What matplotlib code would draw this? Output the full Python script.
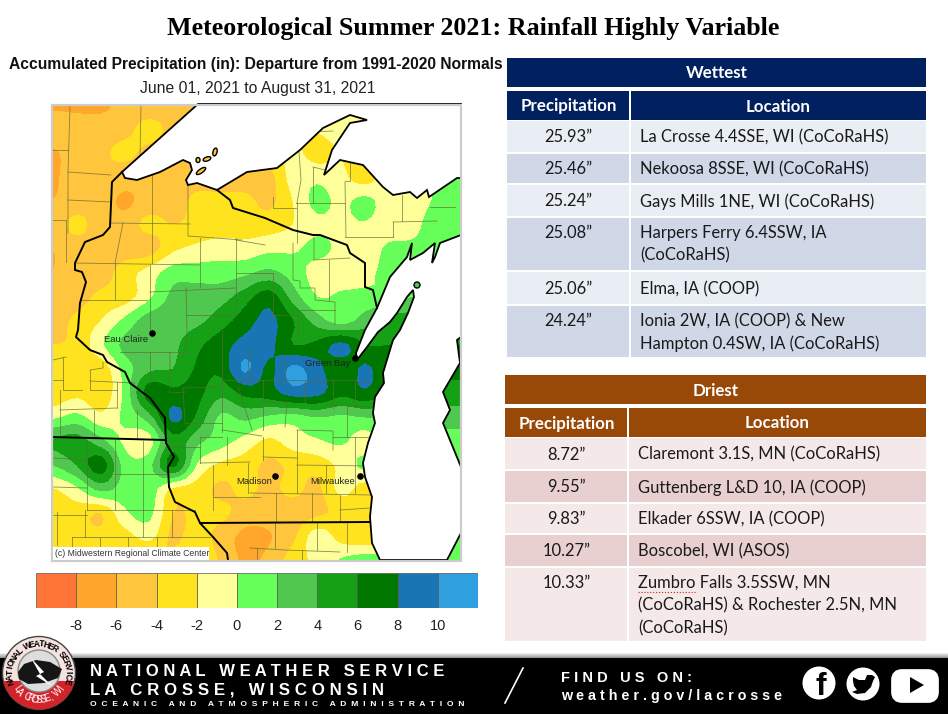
import numpy as np
import matplotlib
matplotlib.use('Agg')
import matplotlib.pyplot as plt
from matplotlib.colors import ListedColormap, BoundaryNorm
from matplotlib.patches import Rectangle, Polygon, Circle, Ellipse, FancyBboxPatch

# departure values, one list per pixel row (every 24 px)
grid_x = [53, 77, 101, 125, 149, 173, 197, 221, 245, 269, 293, 317, 341, 365, 389, 413, 437, 461]
grid_y = [105, 129, 153, 177, 201, 225, 249, 273, 297, 321, 345, 369, 393, 417, 441, 465, 489, 513, 537, 561]
row_105 = [-6.3, -6.5, -6.5, -5.5, -5, -5, -4.5, -4, -3, -2, -1.5, -1, -1, -1, -1, -0.5, 0.5, 0.5]
row_129 = [-5, -5, -5, -4.5, -3.5, -4.5, -5, -4, -3, -2.5, -2, -1.8, -1, -1, -1, -0.5, 0.5, 0.5]
row_153 = [-6.3, -5, -4.3, -3.7, -4.5, -5, -5, -5, -4, -3, -1.5, -3, -2, -2.5, -1, -0.7, 0.5, 0.5]
row_177 = [-6.3, -5, -4.5, -5, -5, -5, -5, -5, -5, -4.8, -1.2, -0.5, -1.5, -3, -1, -0.6, 0.2, 1]
row_201 = [-6, -5, -5, -6.5, -5, -5, -3.5, -3.5, -3.5, -4.5, -2, 0.5, -0.5, 0.5, -1, -0.7, 0.2, 1]
row_225 = [-5, -3.5, -5, -5, -3.5, -4, -3.5, -3, -3, -3, -2, -0.5, -0.5, -0.2, -1, -0.5, 0.8, 1]
row_249 = [-6, -5, -5, -5, -5, -2.5, -1.5, -1, -1.2, -0.5, -0.3, 0.5, -0.5, -1, 0.3, 0.3, 0.5, 0.5]
row_273 = [-6, -5, -5, -3, -1.2, 1, 1, 1, 1.5, 2.5, 1, -0.8, -1, -0.5, 0.5, 0.5, 0.5, 0.5]
row_297 = [-5.5, -5, -3.5, -3, -0.5, 2.5, 3, 3.2, 5, 7, 3, 0, 0.3, 0.5, 0.5, 2, 2, 2]
row_321 = [-5, -3.5, -2, 0.5, 3, 3.2, 3.5, 5, 7, 8.5, 6, 3, 1, 3, 5, 5, 5, 5]
row_345 = [-4, -3.5, -0.5, 2.5, 3, 3.5, 5.5, 7, 8.7, 8.5, 6, 6.5, 8.5, 6, 6, 6, 6, 6]
row_369 = [-3, -3, -3.5, 0.8, 3.5, 4, 6.2, 6.5, 10.3, 7.5, 10.5, 8.6, 6.5, 8.3, 6.5, 6.5, 6.5, 6.5]
row_393 = [-3.5, -2.5, -3.5, 0.5, 7, 6.5, 6.5, 4.5, 6.5, 7, 8.8, 8.5, 6.5, 7.5, 6, 6, 5, 5]
row_417 = [-0.5, 0.5, -1.5, 0.5, 3, 8.5, 5.5, 1.5, 2.5, 1.5, 1, 2, 1.5, 2, 2, 2, 3, 3]
row_441 = [4.2, 4.8, 2.5, -0.5, -1, 5, 2.5, 0.8, -0.8, -2.5, -1, -0.3, 0.3, -1, 1, 1, 1, 1]
row_465 = [2, 4, 7, 1, 1.2, 6.5, -0.3, -2.5, -3, -4.5, -3.5, -3.2, -1.5, 0.5, 0, 0, 0, 0]
row_489 = [-2.2, -0.5, 2.5, 1, 1, -2.5, -3, -4.5, -3.5, -4.5, -3.5, -4.5, -1.5, -3, -3, -3, -3, -3]
row_513 = [-3, -3, -4, -0.5, 0.5, -4, -3.5, -3.5, -5, -5.2, -5, -4.5, -3.5, -3, -3, -3, -3, -3]
row_537 = [-3.5, -3.5, -3.5, -3, -1.5, -4.5, -3, -5, -6.5, -6.2, -4.5, -1, -2.8, -3.5, -3, -3, 0.5, 0.5]
row_561 = [-4, -4, -4.5, -5, -5, -3.5, -1.5, -4.5, -6.3, -5.5, -3, -1.5, 0.2, 1, 1, 1, 1, 1]

levels = [-100, -8, -6, -4, -2, 0, 2, 4, 6, 8, 10, 100]
level_colors = ['#ff7538', '#ffa62b', '#ffc53d', '#ffe31f', '#ffff99', '#66ff5a',
                '#50c850', '#15a015', '#007800', '#1a75b5', '#2f9fe0']
bar_ticks = [-8, -6, -4, -2, 0, 2, 4, 6, 8, 10]

# lakes and borders, in picture pixels
superior = [(198, 104), (122, 172), (125, 178), (137, 180), (160, 172), (183, 160), (190, 163), (192, 170),
            (186, 180), (188, 185), (197, 183), (217, 190), (247, 172), (277, 168), (300, 150), (323, 128),
            (350, 115), (367, 120), (350, 123), (332, 150), (324, 175), (340, 160), (363, 165), (383, 187),
            (393, 195), (410, 192), (417, 198), (427, 190), (429, 197), (457, 178), (461, 178), (461, 104)]
michigan = [(461, 235), (440, 243), (435, 257), (432, 263), (435, 243), (423, 253), (410, 260), (412, 243),
            (407, 257), (390, 277), (377, 308), (365, 330), (356, 353), (357, 360), (367, 347), (378, 332),
            (390, 322), (397, 313), (407, 297), (413, 290), (414, 297), (408, 313), (400, 330), (393, 340),
            (383, 373), (384, 383), (375, 397), (373, 413), (375, 423), (368, 443), (363, 463), (365, 477),
            (372, 497), (370, 517), (372, 543), (380, 560), (447, 560), (461, 533), (461, 467), (443, 423),
            (450, 410), (443, 392), (460, 363), (457, 340), (461, 337)]
mn_wi = [(122, 172), (112, 182), (110, 227), (103, 235), (85, 242), (75, 263), (75, 270), (82, 272), (86, 282),
         (80, 303), (78, 330), (76, 337), (90, 350), (103, 355), (107, 362), (125, 372), (130, 383), (150, 398),
         (165, 418), (166, 443), (174, 457), (168, 467), (169, 487), (175, 502), (195, 512), (200, 523),
         (213, 537), (227, 553), (228, 560)]
mn_ia = [(52, 437), (166, 440)]
wi_il = [(200, 523), (370, 522)]
wi_mi = [(217, 190), (230, 200), (233, 208), (265, 218), (293, 230), (313, 235), (320, 235), (347, 245),
         (350, 253), (365, 263), (365, 287), (373, 290), (377, 308)]
counties = [
    [(70, 105), (68, 172), (68, 233)], [(141, 105), (140, 157)], [(53, 150), (68, 150)], [(68, 172), (111, 175)],
    [(68, 200), (111, 202)], [(53, 220), (66, 220), (66, 262)], [(110, 223), (190, 224)], [(152, 175), (152, 263)],
    [(188, 185), (188, 236), (242, 240)], [(123, 223), (115, 263)], [(75, 263), (200, 265)], [(115, 263), (115, 300)],
    [(80, 300), (147, 300)], [(150, 265), (150, 300), (150, 330)], [(200, 238), (200, 287)], [(150, 292), (236, 288)],
    [(186, 288), (187, 330), (186, 352)], [(186, 315), (236, 315)], [(236, 238), (236, 310)], [(236, 240), (265, 245)],
    [(236, 273), (273, 273)], [(273, 197), (273, 208), (296, 208)], [(297, 203), (297, 243)], [(296, 203), (345, 203)],
    [(345, 182), (346, 237)], [(345, 237), (393, 237)], [(393, 222), (393, 237)], [(393, 222), (437, 221)],
    [(402, 195), (402, 221)], [(430, 207), (455, 207)], [(299, 152), (301, 180), (297, 203)], [(310, 132), (333, 131)],
    [(313, 167), (313, 203)], [(313, 167), (325, 170)], [(350, 163), (350, 181), (345, 181)], [(314, 237), (314, 260), (350, 258)],
    [(329, 260), (329, 300)], [(293, 243), (293, 280), (300, 281), (300, 288), (315, 288), (315, 300), (335, 302), (335, 325)],
    [(273, 273), (273, 317)], [(300, 310), (335, 310)], [(298, 310), (298, 340)], [(270, 315), (298, 315)],
    [(120, 352), (188, 352)], [(150, 352), (150, 385)], [(170, 352), (170, 393), (186, 392)], [(183, 388), (185, 423)],
    [(183, 388), (220, 387)], [(222, 330), (222, 432)], [(222, 380), (305, 380), (370, 380)], [(248, 347), (248, 380)],
    [(238, 387), (252, 430)], [(185, 423), (222, 423)], [(222, 430), (262, 436)], [(200, 437), (200, 463)], [(200, 437), (222, 437)],
    [(170, 447), (200, 447)], [(200, 463), (250, 462)], [(213, 465), (213, 510)], [(213, 497), (260, 497)], [(248, 463), (248, 493)],
    [(227, 437), (227, 465)], [(53, 360), (66, 357)], [(63, 357), (63, 390), (82, 390)], [(53, 380), (63, 380)],
    [(90, 370), (90, 390), (117, 390)], [(90, 370), (103, 368), (103, 362)], [(117, 382), (117, 408)], [(90, 381), (135, 383)],
    [(94, 410), (94, 438)], [(60, 410), (117, 408)], [(60, 390), (60, 437)], [(137, 410), (137, 438)], [(53, 458), (88, 460)],
    [(87, 440), (87, 510)], [(115, 440), (115, 510)], [(143, 441), (143, 537)], [(115, 474), (168, 474)], [(53, 487), (87, 488)],
    [(87, 510), (195, 510)], [(57, 512), (57, 545)], [(53, 515), (87, 515)], [(85, 510), (85, 537)], [(72, 537), (210, 537)],
    [(72, 537), (72, 547)], [(100, 537), (100, 546)], [(128, 537), (128, 546)], [(157, 537), (157, 546)], [(172, 510), (172, 537)],
    [(263, 380), (263, 430)], [(285, 355), (285, 380)], [(305, 380), (305, 402)], [(333, 380), (333, 408)], [(355, 380), (355, 407)],
    [(263, 402), (287, 402), (285, 427)], [(347, 405), (347, 437)], [(330, 405), (375, 407)], [(297, 430), (297, 493)],
    [(297, 430), (333, 431), (333, 450)], [(333, 437), (368, 437)], [(355, 437), (355, 493)], [(263, 457), (297, 458)], [(263, 437), (263, 460)],
    [(297, 465), (370, 466)], [(326, 465), (326, 493)], [(250, 493), (372, 495)], [(276, 493), (276, 522)], [(312, 493), (312, 522)],
    [(340, 495), (340, 522)], [(340, 510), (370, 508)], [(275, 522), (275, 548)], [(317, 522), (317, 550)], [(347, 522), (347, 552)],
    [(250, 548), (285, 550), (340, 552)], [(257, 548), (257, 560)], [(302, 550), (302, 560)],
]
cities = ['Eau Claire', 'Green Bay', 'Madison', 'Milwaukee']
city_x = [152, 355, 275, 360]
city_y = [333, 358, 476, 476]
label_x = [126, 328, 254, 333]
label_y = [339, 363, 481, 481]

# tables
wet_precip = ['25.93”', '25.46”', '25.24”', '25.08”', '25.06”', '24.24”']
wet_loc = ['La Crosse 4.4SSE, WI (CoCoRaHS)', 'Nekoosa 8SSE, WI (CoCoRaHS)', 'Gays Mills 1NE, WI (CoCoRaHS)',
           'Harpers Ferry 6.4SSW, IA\n(CoCoRaHS)', 'Elma, IA (COOP)',
           'Ionia 2W, IA (COOP) & New\nHampton 0.4SW, IA (CoCoRaHS)']
wet_edges = [120, 153, 184, 217, 271, 305, 358]
dry_precip = ['8.72”', '9.55”', '9.83”', '10.27”', '10.33”']
dry_loc = ['Claremont 3.1S, MN (CoCoRaHS)', 'Guttenberg L&D 10, IA (COOP)', 'Elkader 6SSW, IA (COOP)',
           'Boscobel, WI (ASOS)', 'Zumbro Falls 3.5SSW, MN\n(CoCoRaHS) & Rochester 2.5N, MN\n(CoCoRaHS)']
dry_edges = [437, 470, 503, 534, 567, 642]

font_ui = ['Lato', 'DejaVu Sans']
font_map = ['Liberation Sans', 'DejaVu Sans']


def spaced(text, gap='  ', word_gap='     '):
    # letter spacing for the footer lines
    return word_gap.join(gap.join(w) for w in text.split(' '))


def rounder(a, n=4):
    # Catmull-Rom between grid rows so the filled bands come out round
    out = []
    for i in range(len(a) - 1):
        p0, p1, p2, p3 = a[max(i - 1, 0)], a[i], a[i + 1], a[min(i + 2, len(a) - 1)]
        for t in np.arange(n) / n:
            out.append(0.5 * (2 * p1 + (p2 - p0) * t + (2 * p0 - 5 * p1 + 4 * p2 - p3) * t ** 2
                              + (3 * p1 - p0 - 3 * p2 + p3) * t ** 3))
    out.append(a[-1])
    return np.array(out)


fig = plt.figure(figsize=(9.48, 7.14), dpi=100)
ax = fig.add_axes([0, 0, 1, 1])
ax.set_xlim(0, 948)
ax.set_ylim(714, 0)
ax.axis('off')

ax.text(473, 29, 'Meteorological Summer 2021: Rainfall Highly Variable', ha='center', va='center',
        fontsize=18.7, family=['Liberation Serif', 'DejaVu Serif'], weight='bold', color='black')
ax.text(256, 65, 'Accumulated Precipitation (in): Departure from 1991-2020 Normals', ha='center', va='center',
        fontsize=11.25, family=font_map, weight='bold', color='#111111')
ax.text(258, 89, 'June 01, 2021 to August 31, 2021', ha='center', va='center', fontsize=11.3, family=font_map, color='#222222')

# map
departure = np.array([row_105, row_129, row_153, row_177, row_201, row_225, row_249, row_273, row_297, row_321,
                      row_345, row_369, row_393, row_417, row_441, row_465, row_489, row_513, row_537, row_561])
fine = rounder(rounder(departure).T).T
fine_x = np.linspace(grid_x[0], grid_x[-1], fine.shape[1])
fine_y = np.linspace(grid_y[0], grid_y[-1], fine.shape[0])
cmap = ListedColormap(level_colors)
norm = BoundaryNorm(levels, cmap.N)
ax.contourf(fine_x, fine_y, fine, levels=levels, cmap=cmap, norm=norm, zorder=1)
for line in counties:
    xs, ys = zip(*line)
    ax.plot(xs, ys, color='#5f6a3a', lw=0.6, alpha=0.75, zorder=2)
ax.add_patch(Polygon(superior, closed=True, fc='white', ec='black', lw=1.3, zorder=3))
ax.add_patch(Polygon(michigan, closed=True, fc='white', ec='black', lw=1.3, zorder=3))
for border in [mn_wi, mn_ia, wi_il, wi_mi]:
    xs, ys = zip(*border)
    ax.plot(xs, ys, color='black', lw=1.4, zorder=4)
# islands
ax.add_patch(Ellipse((215, 152), 4, 8, angle=15, fc='#ffc53d', ec='black', lw=1, zorder=4))
ax.add_patch(Ellipse((207, 159), 8, 4, angle=-20, fc='#ffc53d', ec='black', lw=1, zorder=4))
ax.add_patch(Ellipse((198, 160), 4, 5, fc='#ffc53d', ec='black', lw=1, zorder=4))
ax.add_patch(Ellipse((201, 171), 11, 4, angle=-35, fc='#ffc53d', ec='black', lw=1, zorder=4))
ax.add_patch(Ellipse((417, 285), 6, 6, fc='#50c850', ec='black', lw=1, zorder=4))
# frame and credit box
ax.add_patch(Rectangle((52.5, 104.5), 409, 456, fc='none', ec='#cccccc', lw=1.6, zorder=5))
ax.add_patch(Rectangle((53, 547), 156, 13, fc='white', ec='none', zorder=6))
ax.text(55, 554, '(c) Midwestern Regional Climate Center', ha='left', va='center', fontsize=6.2, family=font_map, color='#333333', zorder=7)
ax.scatter(city_x, city_y, s=14, color='black', zorder=6)
for name, lx, ly in zip(cities, label_x, label_y):
    ax.text(lx, ly, name, ha='center', va='center', fontsize=6.8, family=font_map, color='#222222', zorder=6)

# colour bar
bar = fig.add_axes([36 / 948, 1 - 608 / 714, 442 / 948, 35 / 714])
for i, col in enumerate(level_colors):
    bar.bar(-9 + 2 * i, 1, width=2, color=col, edgecolor='#555555', linewidth=0.5)
bar.set_xlim(-10, 12)
bar.set_ylim(0, 1)
bar.set_yticks([])
bar.set_xticks(bar_ticks)
bar.set_xticklabels(bar_ticks, fontsize=10.5, family=font_map, color='#222222')
bar.tick_params(axis='x', length=0, pad=8)
for s in bar.spines.values():
    s.set_visible(False)


def draw_table(x0, xm, x1, y_title, title, edges, precip, loc, head_col, col_a, col_b):
    ax.add_patch(Rectangle((x0, y_title), x1 - x0, 29, fc=head_col, ec='none'))
    ax.text((x0 + x1) / 2, y_title + 15.5, title, ha='center', va='center', fontsize=12.2, weight='bold', family=font_ui, color='white')
    top = edges[0] - 29
    ax.add_patch(Rectangle((x0, top), xm - x0 - 1, 29, fc=head_col, ec='none'))
    ax.add_patch(Rectangle((xm + 1, top), x1 - xm - 1, 29, fc=head_col, ec='none'))
    ax.text((x0 + xm) / 2, top + 15.5, 'Precipitation', ha='center', va='center', fontsize=12.2, weight='bold', family=font_ui, color='white')
    ax.text((xm + x1) / 2, top + 15.5, 'Location', ha='center', va='center', fontsize=12.2, weight='bold', family=font_ui, color='white')
    for i in range(len(precip)):
        col = col_a if i % 2 == 0 else col_b
        y0, y1 = edges[i], edges[i + 1]
        ax.add_patch(Rectangle((x0, y0 + 1), xm - x0 - 1, y1 - y0 - 2, fc=col, ec='none'))
        ax.add_patch(Rectangle((xm + 1, y0 + 1), x1 - xm - 1, y1 - y0 - 2, fc=col, ec='none'))
        lines = loc[i].split('\n')
        first = (y0 + y1) / 2 + 1 if len(lines) == 1 else y0 + 16
        ax.text((x0 + xm) / 2, first, precip[i], ha='center', va='center', fontsize=11.9, family=font_ui, color='#1a1a1a')
        for j, part in enumerate(lines):
            ax.text(xm + 10, first + j * 22.8, part, ha='left', va='center', fontsize=11.9, family=font_ui, color='#1a1a1a')


draw_table(507, 630, 926, 58, 'Wettest', wet_edges, wet_precip, wet_loc, '#012060', '#e9edf4', '#d0d8e8')
draw_table(505, 628, 926, 375, 'Driest', dry_edges, dry_precip, dry_loc, '#984807', '#f4e9e8', '#e8d0d0')
ax.plot([638, 697], [592, 592], color='#d02020', lw=0.8, ls=':')

# footer
ax.imshow(np.linspace(0.6, 1, 6).reshape(-1, 1)[::-1], extent=(0, 948, 658, 652), cmap='gray', vmin=0, vmax=1, aspect='auto', zorder=8)
ax.set_xlim(0, 948)
ax.set_ylim(714, 0)
ax.add_patch(Rectangle((0, 658), 948, 56, fc='black', ec='none', zorder=9))
ax.text(90, 671, spaced('NATIONAL WEATHER SERVICE', ' ', '   '), ha='left', va='center', fontsize=12, weight='bold', family=font_map, color='white', zorder=10)
ax.text(90, 690, spaced('LA CROSSE, WISCONSIN', ' ', '   '), ha='left', va='center', fontsize=12.2, weight='bold', family=font_map, color='white', zorder=10)
ax.text(90, 705, spaced('OCEANIC AND ATMOSPHERIC ADMINISTRATION'), ha='left', va='center', fontsize=6.1, weight='bold', family=font_map, color='white', zorder=10)
ax.plot([505, 523], [703, 668], color='white', lw=1.2, zorder=10)
ax.text(561, 678, spaced('FIND US ON:', ' ', '   '), ha='left', va='center', fontsize=10.5, weight='bold', family=font_map, color='white', zorder=10)
ax.text(561, 696, spaced('weather.gov/lacrosse', ' ', '   '), ha='left', va='center', fontsize=10.3, weight='bold', family=font_map, color='white', zorder=10)
# social icons
ax.add_patch(Circle((819, 683), 16.5, fc='white', ec='none', zorder=10))
ax.text(821, 687, 'f', ha='center', va='center', fontsize=23, weight='bold', family=font_map, color='black', zorder=11)
ax.add_patch(Circle((863, 684), 16.5, fc='white', ec='none', zorder=10))
ax.add_patch(Polygon([(853, 677), (859, 680), (865, 680), (867, 675), (872, 675), (875, 677), (873, 681), (871, 687), (865, 693),
                      (857, 694), (852, 692), (857, 690), (854, 686), (853, 681)], closed=True, fc='black', ec='none', zorder=11))
ax.add_patch(FancyBboxPatch((896, 674), 38, 24, boxstyle='round,pad=0,rounding_size=6', mutation_aspect=1, fc='white', ec='white', lw=7, zorder=10))
ax.add_patch(Polygon([(910, 677), (910, 693), (924, 685)], closed=True, fc='black', ec='none', zorder=11))

# logo
cx, cy = 39, 673
disc = Circle((cx, cy), 36.5, fc='#f5e3df', ec='#444444', lw=1, zorder=12)
ax.add_patch(disc)
red = Rectangle((0, 681), 80, 35, fc='#d2232a', ec='none', zorder=13)
ax.add_patch(red)
red.set_clip_path(disc)
ax.add_patch(Circle((cx, cy - 2), 21, fc='#dddddd', ec='#888888', lw=1, zorder=13))
ax.add_patch(Polygon([(18, 672), (24, 664), (36, 660), (50, 662), (62, 669), (58, 678), (44, 683), (28, 684), (19, 679)],
                     closed=True, fc='#161616', ec='none', zorder=14))
ax.add_patch(Polygon([(31, 658), (44, 672), (40, 674), (52, 686), (36, 676), (40, 674)], closed=True, fc='white', ec='none', zorder=15))
top_text = 'NATIONAL WEATHER SERVICE'
for i, ch in enumerate(top_text):
    a = np.radians(197 - 214 * i / (len(top_text) - 1))
    ax.text(cx + 29 * np.cos(a), cy - 29 * np.sin(a), ch, ha='center', va='center', rotation=np.degrees(a) - 90,
            fontsize=6.2, weight='bold', family=font_map, color='black', zorder=16)
low_text = 'LA CROSSE, WI'
for i, ch in enumerate(low_text):
    a = np.radians(215 + 110 * i / (len(low_text) - 1))
    ax.text(cx + 27 * np.cos(a), cy - 27 * np.sin(a), ch, ha='center', va='center', rotation=np.degrees(a) + 90,
            fontsize=7, family=font_map, color='white', zorder=16)

fig.savefig('out.png', dpi=100)
